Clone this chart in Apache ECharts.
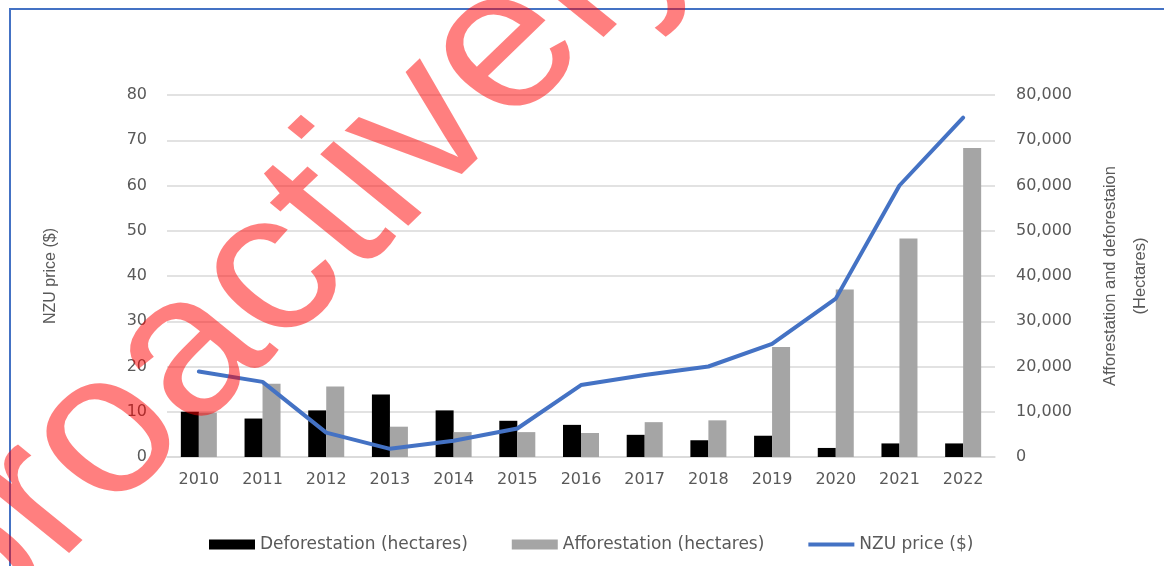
<!DOCTYPE html>
<html>
<head>
<meta charset="utf-8">
<script src="https://cdn.jsdelivr.net/npm/echarts@6/dist/echarts.min.js"></script>
<style>
  html, body { margin: 0; padding: 0; background: #fff; }
  #main { width: 1164px; height: 566px; }
</style>
</head>
<body>
<div id="main"></div>
<script>
// data
var years = ['2010', '2011', '2012', '2013', '2014', '2015', '2016', '2017', '2018', '2019', '2020', '2021', '2022'];
var deforestation = [10000, 8500, 10300, 13800, 10300, 8000, 7100, 4900, 3700, 4700, 2000, 3000, 3000];
var afforestation = [9800, 16200, 15600, 6700, 5500, 5500, 5300, 7700, 8100, 24300, 37000, 48300, 68300];
var nzuPrice = [18.9, 16.6, 5.4, 1.8, 3.6, 6.3, 15.9, 18.1, 20, 25, 35, 60, 75];

var txt = '#595959';
var grid = '#d9d9d9';
var font = 'DejaVu Sans';

var chart = echarts.init(document.getElementById('main'));
chart.setOption({
  backgroundColor: '#fff',
  animation: false,
  textStyle: { fontFamily: font },
  grid: { left: 167, right: 169, top: 95, bottom: 109, outerBoundsMode: 'none' },
  legend: {
    top: 531,
    left: 204,
    itemGap: 44,
    itemWidth: 46,
    itemHeight: 10,
    textStyle: { color: txt, fontSize: 17, fontFamily: font },
    data: [
      { name: 'Deforestation (hectares)', icon: 'rect' },
      { name: 'Afforestation (hectares)', icon: 'rect' },
      { name: 'NZU price ($)', icon: 'path://M0,0 L46,0 L46,4 L0,4 Z' }
    ]
  },
  xAxis: {
    type: 'category',
    data: years,
    axisTick: { show: false },
    axisLine: { lineStyle: { color: grid, width: 1.5 } },
    axisLabel: { color: txt, fontSize: 16, margin: 15 }
  },
  yAxis: [
    {
      type: 'value', min: 0, max: 80, interval: 10,
      name: 'NZU price ($)',
      nameLocation: 'middle', nameRotate: 90, nameGap: 108,
      nameTextStyle: { color: txt, fontSize: 16, fontFamily: 'Liberation Sans' },
      axisLabel: { color: txt, fontSize: 16, margin: 20 },
      splitLine: { lineStyle: { color: grid, width: 1.5 } }
    },
    {
      type: 'value', min: 0, max: 80000, interval: 10000,
      name: 'Afforestation and deforestaion\n(Hectares)',
      nameLocation: 'middle', nameRotate: 90, nameGap: 100,
      nameTextStyle: { color: txt, fontSize: 16.5, lineHeight: 30, fontFamily: 'Liberation Sans' },
      axisLabel: {
        color: txt, fontSize: 16, margin: 21,
        formatter: function (v) { return v.toLocaleString('en-US'); }
      },
      splitLine: { show: false }
    }
  ],
  series: [
    {
      name: 'Deforestation (hectares)', type: 'bar', yAxisIndex: 1,
      data: deforestation, barWidth: 18, barGap: '0%',
      itemStyle: { color: '#000000' }
    },
    {
      name: 'Afforestation (hectares)', type: 'bar', yAxisIndex: 1,
      data: afforestation, barWidth: 18,
      itemStyle: { color: '#a5a5a5' }
    },
    {
      name: 'NZU price ($)', type: 'line', yAxisIndex: 0,
      data: nzuPrice, symbol: 'none', smooth: false,
      lineStyle: { color: '#4472c4', width: 4, cap: 'round', join: 'round' },
      itemStyle: { color: '#4472c4' }
    }
  ],
  graphic: [
    {
      type: 'rect', silent: true, z: 1,
      shape: { x: 10, y: 9, width: 1200, height: 600 },
      style: { fill: 'none', stroke: '#4472c4', lineWidth: 2 }
    },
    // watermark, stretched sideways like in the picture
    {
      type: 'group', scaleX: 1.13, z: 100,
      children: [{
        type: 'text', x: -64, y: 608, rotation: 47.5 * Math.PI / 180, z: 100,
        style: {
          text: 'proactively',
          fontFamily: 'Liberation Sans', fontSize: 200,
          fill: 'rgba(255,0,0,0.5)',
          align: 'left', verticalAlign: 'middle'
        }
      }]
    }
  ]
});
</script>
</body>
</html>
